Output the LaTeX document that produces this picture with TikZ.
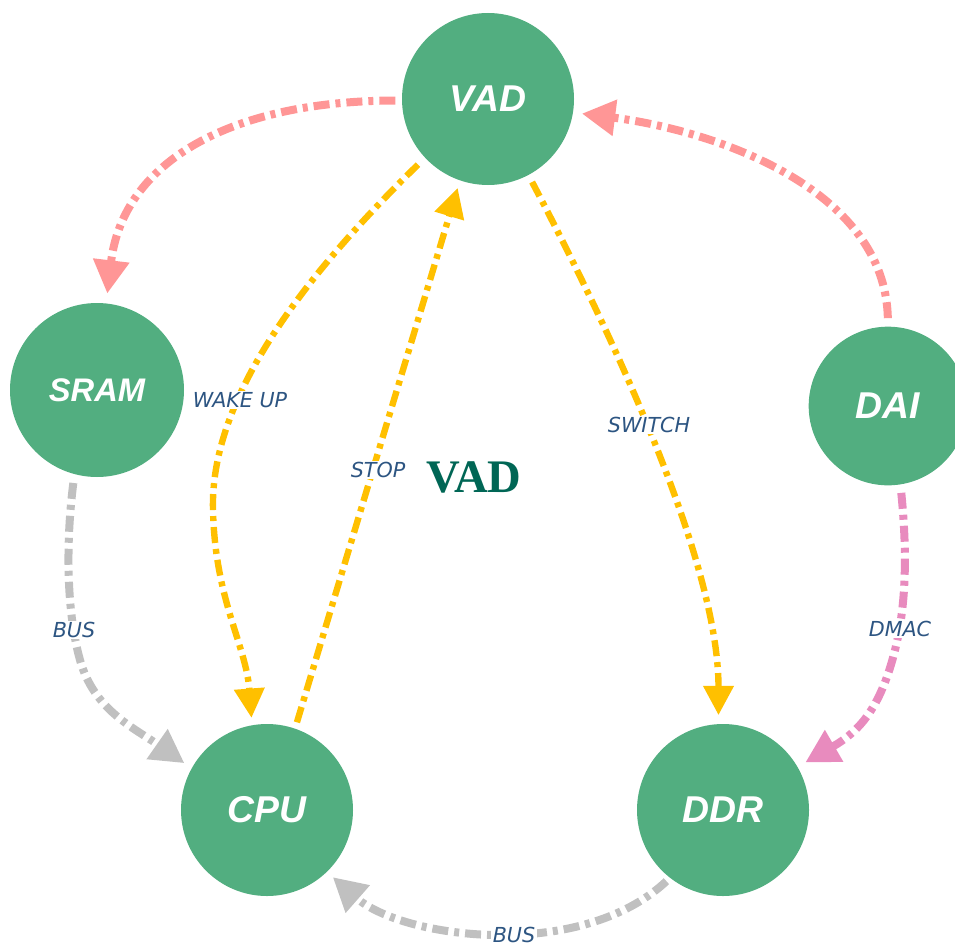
\documentclass[tikz,border=0pt]{standalone}
\usepackage{fontspec}
\setmainfont{Liberation Serif}
\newfontfamily\nodefont{Liberation Sans}
\newfontfamily\labfont{DejaVu Sans}
\usetikzlibrary{arrows.meta}
\definecolor{ngreen}{RGB}{82,174,128}
\definecolor{lpink}{RGB}{255,150,150}
\definecolor{lorange}{RGB}{255,192,0}
\definecolor{lmagenta}{RGB}{232,139,190}
\definecolor{lgray}{RGB}{192,192,192}
\definecolor{labblue}{RGB}{45,85,130}
\definecolor{titlegreen}{RGB}{0,102,85}
\tikzset{
  stnode/.style={circle, fill=ngreen, inner sep=0pt, outer sep=0pt, text=white,
    font=\nodefont\bfseries\itshape\fontsize{28}{30}\selectfont},
  flowthick/.style={line width=6pt, dash pattern=on 12pt off 4.5pt on 3.75pt off 4.5pt,
    -{Triangle[length=25pt,width=26pt]}},
  flowthin/.style={line width=4.8pt, dash pattern=on 12pt off 4.5pt on 3.75pt off 4.5pt,
    -{Triangle[length=22pt,width=22pt]}},
  edgelab/.style={fill=white, inner sep=1pt, text=labblue,
    font=\labfont\itshape\fontsize{15.5}{17}\selectfont},
}
\begin{document}
\begin{tikzpicture}[x=0.75pt,y=-0.75pt]
\useasboundingbox (0,0) rectangle (955,945);
% nodes
\node[stnode, minimum size=129pt] (vad) at (488,99) {VAD};
\node[stnode, minimum size=130.5pt, font=\nodefont\bfseries\itshape\fontsize{24.5}{26}\selectfont] (sram) at (97,390) {SRAM};
\node[stnode, minimum size=119pt] (dai) at (888,406) {DAI};
\node[stnode, minimum size=129pt] (cpu) at (267,810) {CPU};
\node[stnode, minimum size=129pt] (ddr) at (723,810) {DDR};
% connectors
\draw[flowthick, lpink, shorten <=5pt, shorten >=7.5pt]
  (vad.181) .. controls (230,101) and (123,162) .. (sram.84);
\draw[flowthick, lpink, shorten <=6.4pt, shorten >=6.75pt]
  (dai.90) .. controls (885,188) and (714,130.5) .. (vad.351.5);
\draw[flowthin, lorange, shorten <=7.5pt, shorten >=5.6pt]
  (vad.223.3) .. controls (300,280) and (210,400) .. (213,510)
  .. controls (215,600) and (246,645) .. (cpu.100.5);
\draw[flowthin, lorange, shorten <=5pt, shorten >=6pt]
  (cpu.71.8) -- (vad.251.4);
\draw[flowthin, lorange, shorten <=6pt, shorten >=6.75pt]
  (vad.298.5) .. controls (610,330) and (718.5,560) .. (ddr.93);
\draw[flowthick, lmagenta, shorten <=6.4pt, shorten >=6.75pt]
  (dai.279) .. controls (908,560) and (905,610) .. (895,650)
  .. controls (880,710) and (858,732) .. (ddr.30.3);
\draw[flowthick, lgray, shorten <=6.75pt, shorten >=6.75pt]
  (sram.255) .. controls (66,540) and (66,610) .. (80,660)
  .. controls (94,710) and (133.6,727.6) .. (cpu.151.8);
\draw[flowthick, lgray, shorten <=3.75pt, shorten >=6pt]
  (ddr.232) .. controls (580,962) and (402.7,938.5) .. (cpu.314.6);
% labels
\node[edgelab] (lwake) at (240,400) {WAKE UP};
\node[edgelab] (lstop) at (378,470) {STOP};
\node[edgelab] (lswitch) at (649,425) {SWITCH};
\node[edgelab] (ldmac) at (900,629) {DMAC};
\node[edgelab] (lbus1) at (74,630) {BUS};
\node[edgelab] (lbus2) at (514,935) {BUS};
\node[text=titlegreen, font=\bfseries\fontsize{35}{37}\selectfont, inner sep=0pt] (title) at (474,477) {VAD};
\end{tikzpicture}
\end{document}
